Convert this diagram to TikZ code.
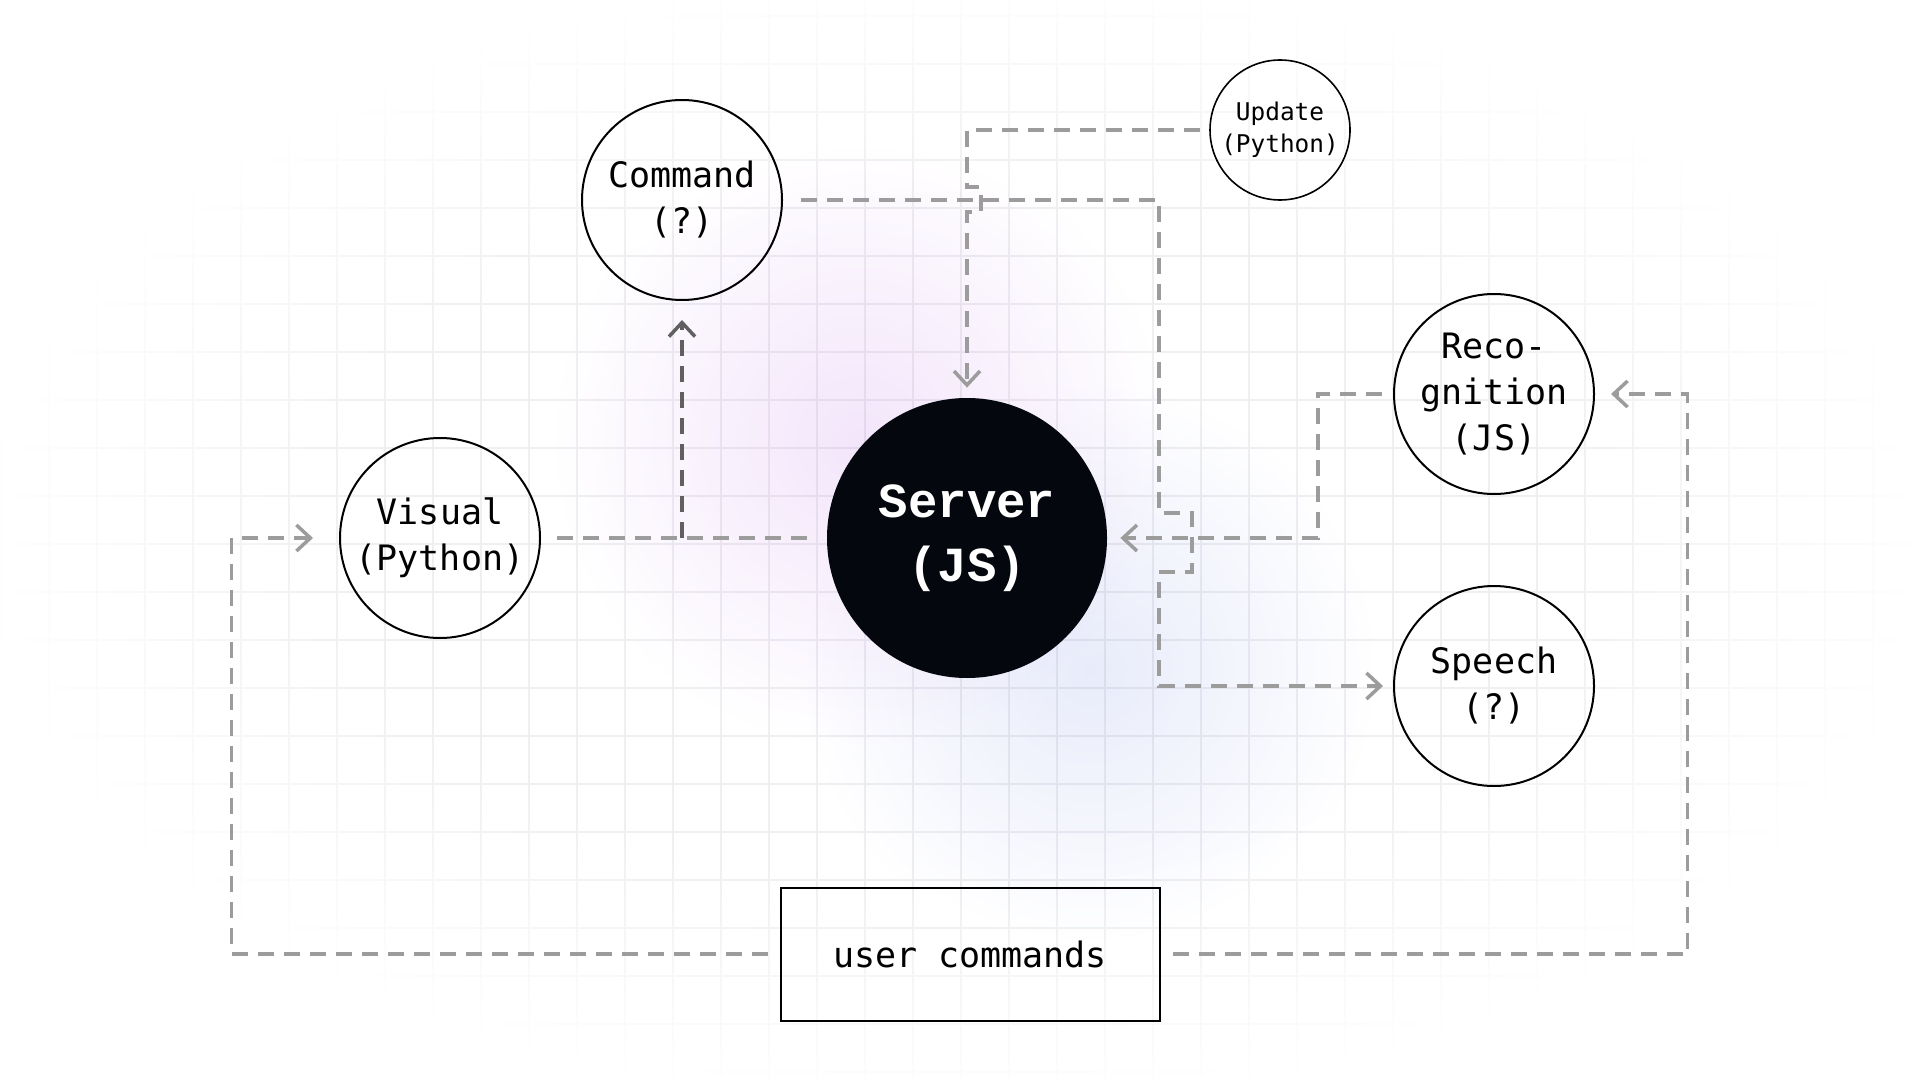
\documentclass[tikz,border=0pt]{standalone}
\usepackage{fontspec}
\usetikzlibrary{arrows.meta}
\newfontfamily\labelfont{DejaVu Sans Mono}
\newfontfamily\hubfont{Liberation Mono}
\definecolor{flowgray}{HTML}{9C9C9C}
\definecolor{flowdark}{HTML}{606060}
\definecolor{gridline}{HTML}{EFEFF1}
\definecolor{glowviolet}{HTML}{F3E5FB}
\definecolor{glowblue}{HTML}{E8EBFA}
\definecolor{hubfill}{HTML}{05070F}
\pgfdeclareradialshading{edgefade}{\pgfpoint{0bp}{0bp}}{color(0bp)=(black); color(15bp)=(black); color(25bp)=(white); color(50bp)=(white)}
\tikzset{
  module/.style={circle, draw=black, line width=1pt, minimum size=100pt, inner sep=0pt,
    align=center, font=\labelfont\fontsize{17.5}{23}\selectfont},
  small module/.style={module, line width=0.8pt, minimum size=70pt,
    font=\labelfont\fontsize{12.2}{16}\selectfont},
  hub/.style={circle, fill=hubfill, text=white, minimum size=140pt, inner sep=0pt,
    align=center, font=\hubfont\bfseries\fontsize{24.5}{32}\selectfont},
  inputbox/.style={draw=black, line width=1pt, minimum width=189.5pt, minimum height=66.5pt,
    font=\labelfont\fontsize{17.5}{23}\selectfont},
  link/.style={draw=flowgray, line width=1.75pt, dash pattern=on 8pt off 5pt},
  flow/.style={link, -{Straight Barb[length=7pt,width=13pt]}},
}
\begin{document}
\begin{tikzpicture}[x=0.5pt, y=-0.5pt]
\useasboundingbox (0,0) rectangle (1920,1080);
\fill[white] (0,0) rectangle (1920,1080);
% background grid and glow, faded out towards the edges
\draw[gridline, line width=0.6pt]
  \foreach \gx in {1,49,...,1921} {(\gx,0) -- (\gx,1080)}
  \foreach \gy in {16,64,...,1072} {(0,\gy) -- (1920,\gy)};
\begin{scope}[blend mode=multiply]
  \shade[inner color=glowviolet, outer color=white] (860,440) circle (310);
  \shade[inner color=glowblue, outer color=white] (1090,670) circle (290);
\end{scope}
\shade[shading=edgefade, blend mode=screen] (-40,-40) rectangle (1960,1120);

% nodes
\node[module] (command) at (682,200) {Command\\(?)};
\node[small module] (update) at (1280,130) {Update\\(Python)};
\node[module] (visual) at (440,538) {Visual\\(Python)};
\node[hub] (server) at (967,538) {Server\\(JS)};
\node[module] (recog) at (1494,394) {Reco-\\gnition\\(JS)};
\node[module] (speech) at (1494,686) {Speech\\(?)};
\node[inputbox] (input) at (970,954) {user commands};

% connectors
\draw[flow, shorten >=5pt] ([xshift=-4.5pt]update.west) -- (update.west -| server)
  -- ++(0,57) -- ++(14,0) -- ++(0,25) -- ++(-14,0) -- (server);
\draw[flow, shorten >=5pt] ([xshift=9pt]command.east) -- ++(358,0)
  -- ++(0,313) -- ++(33,0) -- ++(0,59) -- ++(-33,0) |- (speech);
\draw[flow, shorten >=6.5pt] ([xshift=-5.5pt]recog.west) -- ++(-64,0) |- (server);
\draw[flow, shorten >=8pt] ([xshift=6pt]input.east) -- ++(515,0) |- (recog);
\draw[flow, shorten >=13pt] ([xshift=-6pt]input.west) -- ++(-536,0) |- (visual);
\draw[link] ([xshift=-10pt]server.west) -- ([xshift=7pt]visual.east);
\draw[flow, flowdark, shorten >=9.5pt] (command |- server) -- (command);
\end{tikzpicture}
\end{document}
